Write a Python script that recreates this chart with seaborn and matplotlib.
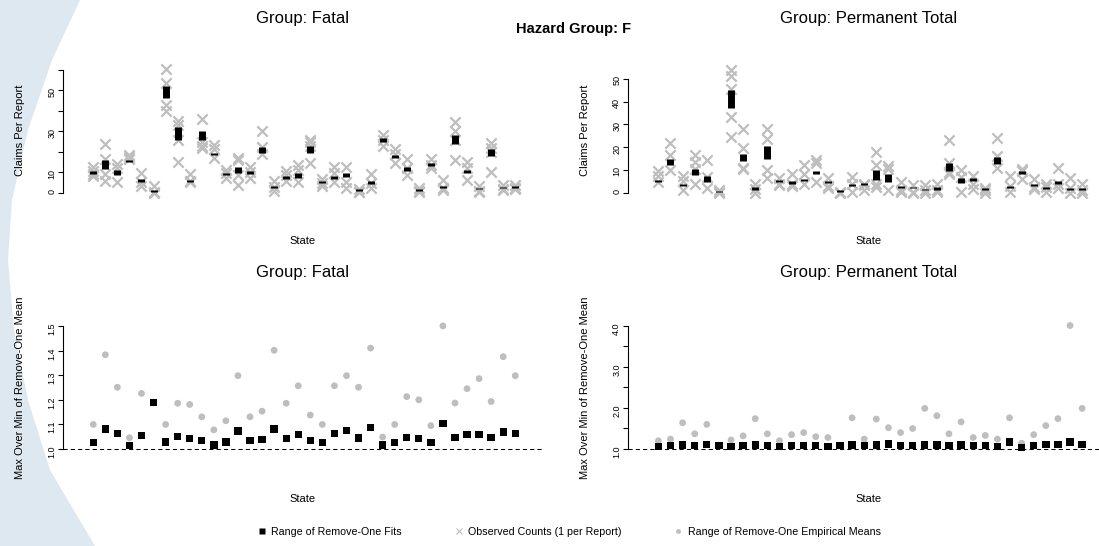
import numpy as np
import pandas as pd
import matplotlib
matplotlib.use("Agg")
import matplotlib.pyplot as plt
import seaborn as sns
from matplotlib.lines import Line2D
from matplotlib.patches import Polygon

# ---------------------------------------------------------------- data
states = np.arange(1, 37)

# observed claim counts, one value per report, for each state
fatal_obs = [
    [12.5, 10.5, 8, 9], [24, 16.5, 9, 5.5], [14, 12, 5], [18.5, 17.5, 16.5],
    [9.5, 5, 3.5], [3.5, 0.5, 0], [60.5, 53.5, 43, 40], [35, 33, 26, 15],
    [9, 5.5, 5], [36, 25, 23, 22], [23.5, 21.5, 17], [11, 9.5, 7],
    [17, 16, 8.5, 4], [12.5, 10, 7], [30, 22.5, 19], [5.5, 3, 1],
    [10.5, 8.5, 5.5], [13.5, 11, 5], [26, 25, 23, 14.5], [6.5, 4.5, 3.5],
    [12.5, 9.5, 5], [12.5, 5, 2.5], [2, 0.5, 0.5], [9, 4.5, 2.5],
    [28, 26, 23], [21.5, 19, 14.5], [16.5, 12, 8.5], [2.5, 1, 0.5],
    [16.5, 13.5, 12], [6, 2.5, 1.5], [34.5, 30, 26, 16], [15, 12, 6],
    [3.5, 1, 0.5], [24.5, 22, 20, 10], [4, 2, 1.5], [4, 2.5, 2],
]
perm_obs = [
    [9.5, 7.5, 4.5], [22, 16.5, 10], [7.5, 5, 1], [16.5, 13.5, 10.5, 4],
    [14.5, 7, 2], [1, 0.3, 0], [54, 51, 45.5, 33, 24.5], [28, 19.5, 11, 10.5],
    [4, 1.5, 0], [28, 23.5, 10, 6.5], [6.5, 4, 3.5], [8, 4, 3],
    [12, 8, 4], [14.5, 13, 4.5], [6.5, 3, 2], [0.5, 0, 0],
    [7, 4, 0.5], [4, 3.5, 1], [18, 12, 4, 2.5], [11.5, 10.5, 1],
    [4.5, 1, 0.5], [3.5, 0.5, 0], [3.5, 1, 0], [4, 1, 0.5],
    [23, 13, 9, 8], [10, 7, 0.5], [7.5, 4, 1.5], [2, 1, 0],
    [24, 16, 11], [7.5, 3, 0.5], [10.5, 9.5, 6], [6, 2.5, 1.5],
    [4, 2.5, 0.5], [11, 4, 2], [6.5, 2, 0], [4, 1, 0],
]

# range of remove-one fitted means (low, high)
fatal_fit_lo = [9, 11.5, 8.5, 15.2, 5, 0.3, 46.5, 26, 5, 26, 18.3, 8.5,
                9.5, 9.2, 19.3, 2.4, 6.7, 7.3, 19.5, 4.5, 6.5, 7.5, 0.8, 4.3,
                25, 16.8, 10.5, 1, 13, 2.5, 23.7, 9.5, 1.7, 18, 2.2, 2.5]
fatal_fit_hi = [10.5, 16, 11, 16.2, 6.5, 1.2, 52, 32, 6.2, 30, 19.5, 9.7,
                12.5, 10.4, 22.5, 3.5, 8, 9.7, 23, 5.5, 8, 9.5, 1.6, 5.8,
                26.5, 18.5, 12.5, 1.8, 14.3, 3.5, 28, 11, 2.5, 21.5, 3, 3.3]
perm_fit_lo = [4.6, 12, 2.8, 7.7, 4.8, 0.2, 37, 13.8, 1.4, 15, 4.6, 3.8,
               5, 8.2, 4.1, 0.4, 3, 3.4, 5.6, 4.8, 2.2, 2, 1.1, 1.4,
               9.7, 4.3, 5.2, 1.3, 12.6, 2, 8.4, 3, 1.5, 3.8, 1.2, 1.2]
perm_fit_hi = [5.5, 15, 4, 10.2, 7.3, 0.8, 45, 17.2, 2.3, 20.5, 5.5, 5,
               6, 9.7, 5, 1, 3.8, 4.2, 10, 8, 3, 2.7, 1.8, 2.3,
               13, 6.5, 6.5, 1.9, 15.6, 3, 9.5, 3.8, 2.3, 5, 2, 2]

# max / min of remove-one means
fatal_ratio_fit = [1.026, 1.082, 1.062, 1.015, 1.054, 1.19, 1.029, 1.05, 1.042,
                   1.034, 1.017, 1.029, 1.074, 1.034, 1.038, 1.082, 1.042, 1.059,
                   1.034, 1.026, 1.062, 1.075, 1.045, 1.088, 1.016, 1.026, 1.047,
                   1.043, 1.026, 1.103, 1.046, 1.058, 1.058, 1.046, 1.07, 1.062]
fatal_ratio_emp = [1.10, 1.383, 1.251, 1.046, 1.226, 1.19, 1.10, 1.186, 1.181,
                   1.131, 1.078, 1.115, 1.298, 1.131, 1.154, 1.401, 1.186, 1.257,
                   1.138, 1.10, 1.257, 1.298, 1.251, 1.41, 1.049, 1.10, 1.213,
                   1.20, 1.095, 1.50, 1.187, 1.245, 1.286, 1.193, 1.375, 1.298]
perm_ratio_fit = [1.06, 1.09, 1.10, 1.08, 1.11, 1.08, 1.06, 1.08, 1.10,
                  1.08, 1.06, 1.08, 1.08, 1.08, 1.06, 1.08, 1.10, 1.08,
                  1.10, 1.12, 1.08, 1.08, 1.10, 1.10, 1.08, 1.10, 1.08,
                  1.08, 1.06, 1.17, 1.03, 1.08, 1.11, 1.11, 1.17, 1.11]
perm_ratio_emp = [1.20, 1.24, 1.64, 1.37, 1.60, 1.08, 1.22, 1.32, 1.74,
                  1.37, 1.20, 1.35, 1.40, 1.30, 1.28, 1.08, 1.76, 1.24,
                  1.73, 1.52, 1.40, 1.50, 1.99, 1.81, 1.37, 1.66, 1.28,
                  1.33, 1.24, 1.76, 1.14, 1.35, 1.57, 1.74, 4.01, 1.99]

legend_labels = ["Range of Remove-One Fits", "Observed Counts (1 per Report)",
                 "Range of Remove-One Empirical Means"]

# ---------------------------------------------------------------- style
sns.set_theme(style="white")
plt.rcParams["font.family"] = ["Liberation Sans", "DejaVu Sans"]
plt.rcParams["text.color"] = "black"
plt.rcParams["axes.labelcolor"] = "black"

GRAY = "#bebebe"
W, H = 1099, 546
fig = plt.figure(figsize=(W / 100, H / 100), dpi=100)

# pale decorative band along the left edge
band = np.array([(80, 0), (52, 60), (28, 130), (12, 200), (8, 260), (14, 330),
                 (28, 400), (50, 470), (95, 546), (0, 546), (0, 0)], float)
band[:, 0] /= W
band[:, 1] = 1 - band[:, 1] / H
fig.add_artist(Polygon(band, closed=True, transform=fig.transFigure,
                       facecolor="#dde8f0", edgecolor="none", zorder=0))


def add_axes_px(x0, y0, x1, y1):
    return fig.add_axes([x0 / W, 1 - y1 / H, (x1 - x0) / W, (y1 - y0) / H])


def style(ax, ticks, labels, ylim, ylabel, title, title_y, state_y):
    ax.set_facecolor("none")
    for s in ("top", "right", "bottom"):
        ax.spines[s].set_visible(False)
    ax.spines["left"].set_color("black")
    ax.spines["left"].set_linewidth(0.8)
    ax.spines["left"].set_bounds(ticks[0], ticks[-1])
    ax.set_xlim(-1.51, 38.3)
    ax.set_ylim(*ylim)
    ax.set_xticks([])
    ax.set_yticks(ticks)
    ax.set_yticklabels(labels)
    ax.tick_params(axis="y", left=True, length=3.9, width=0.8, pad=1.0,
                   labelsize=6.5, labelrotation=90, colors="black")
    ax.set_ylabel(ylabel, fontsize=8)
    ax.yaxis.set_label_coords(-0.09, 0.5)
    ax.yaxis.label.set_va("center")
    ax.set_xlabel("State", fontsize=8)
    ax.xaxis.set_label_coords(0.5, state_y)
    ax.xaxis.label.set_va("center")
    ax.text(0.5, title_y, title, transform=ax.transAxes, ha="center",
            va="center", fontsize=12)


def long_obs(obs):
    xs, ys = [], []
    for s, vals in zip(states, obs):
        xs += [s] * len(vals)
        ys += list(vals)
    return pd.DataFrame({"state": xs, "count": ys})


def draw_counts(ax, obs, lo, hi):
    df = long_obs(obs)
    sns.scatterplot(data=df, x="state", y="count", ax=ax, marker="x", s=55,
                    color=GRAY, linewidth=1.6, legend=False, zorder=2)
    ax.vlines(states, lo, hi, colors="black", linewidth=5, capstyle="butt",
              zorder=3)


def draw_ratio(ax, fit, emp):
    ax.axhline(1.0, color="black", linewidth=0.75, linestyle=(0, (4, 3)),
               zorder=1)
    sns.scatterplot(x=states, y=emp, ax=ax, marker="o", s=24, color=GRAY,
                    edgecolor="none", legend=False, zorder=3)
    sns.scatterplot(x=states, y=fit, ax=ax, marker="s", s=28, color="black",
                    edgecolor="none", legend=False, zorder=4)


ax_tl = add_axes_px(63, 63, 543, 198)
ax_tr = add_axes_px(628, 63, 1110, 198)
ax_bl = add_axes_px(63, 321, 543, 454)
ax_br = add_axes_px(628, 321, 1110, 454)

draw_counts(ax_tl, fatal_obs, fatal_fit_lo, fatal_fit_hi)
draw_counts(ax_tr, perm_obs, perm_fit_lo, perm_fit_hi)
draw_ratio(ax_bl, fatal_ratio_fit, fatal_ratio_emp)
draw_ratio(ax_br, perm_ratio_fit, perm_ratio_emp)

style(ax_tl, [0, 10, 20, 30, 40, 50, 60], ["0", "10", "", "30", "", "50", ""],
      (-2.59, 63.4), "Claims Per Report", "Group: Fatal", 1.333, -0.318)
style(ax_tr, [0, 10, 20, 30, 40, 50], ["0", "10", "20", "30", "40", "50"],
      (-2.32, 56.9), "Claims Per Report", "Group: Permanent Total", 1.333, -0.318)
style(ax_bl, [1.0, 1.1, 1.2, 1.3, 1.4, 1.5],
      ["1.0", "1.1", "1.2", "1.3", "1.4", "1.5"], (0.98, 1.52),
      "Max Over Min of Remove-One Mean", "Group: Fatal", 1.361, -0.338)
style(ax_br, [1.0, 1.5, 2.0, 2.5, 3.0, 3.5, 4.0],
      ["1.0", "", "2.0", "", "3.0", "", "4.0"], (0.878, 4.12),
      "Max Over Min of Remove-One Mean", "Group: Permanent Total", 1.361, -0.338)

fig.text(573.5 / W, 1 - 28.5 / H, "Hazard Group: F", ha="center", va="center",
         fontsize=10.5, fontweight="bold")

handles = [
    Line2D([], [], linestyle="none", marker="s", markersize=4,
           markerfacecolor="black", markeredgecolor="none"),
    Line2D([], [], linestyle="none", marker="x", markersize=4.5,
           markeredgecolor=GRAY, markeredgewidth=0.8),
    Line2D([], [], linestyle="none", marker="o", markersize=3.5,
           markerfacecolor=GRAY, markeredgecolor="none"),
]
fig.legend(handles, legend_labels, loc="center", bbox_to_anchor=(0.518, 1 - 532 / H),
           ncol=3, frameon=False, fontsize=7.7, handlelength=0.8,
           handletextpad=0.5, columnspacing=4.9)

fig.savefig("out.png", dpi=100)
